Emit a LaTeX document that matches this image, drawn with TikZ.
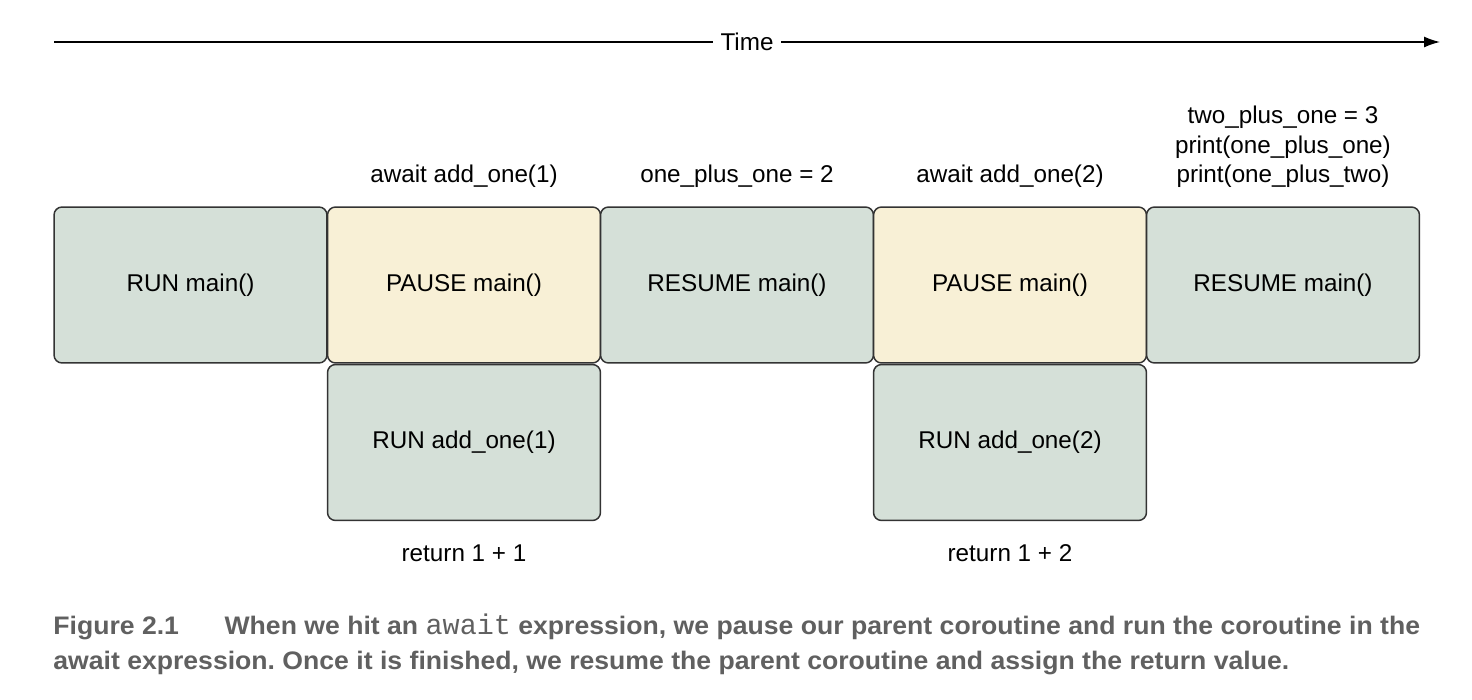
\documentclass[tikz,border=0pt]{standalone}
\usepackage{fontspec}
\setmainfont{Liberation Sans}
\setmonofont{Liberation Mono}
\newfontfamily\capfont[FakeStretch=1.05]{Liberation Sans}
\usetikzlibrary{arrows.meta,positioning}
\definecolor{rungreen}{HTML}{D5E0D8}
\definecolor{pauseyellow}{HTML}{F8F0D6}
\definecolor{capgray}{HTML}{606060}
\frenchspacing
\tikzset{
    block/.style={draw=black!80, line width=0.85pt, rounded corners=0.16cm,
        minimum width=5.46cm, minimum height=3.12cm, inner sep=0pt,
        font=\fontsize{13.8}{16.8}\selectfont},
    runblock/.style={block, fill=rungreen},
    pauseblock/.style={block, fill=pauseyellow},
    stepnote/.style={align=center, inner sep=0pt, font=\fontsize{13.8}{16.8}\selectfont},
    capline/.style={anchor=base west, inner sep=0pt, text=capgray,
        font=\capfont\bfseries\fontsize{14.42}{17}\selectfont}
}

\begin{document}
\begin{tikzpicture}[x=0.02cm, y=-0.02cm]
\useasboundingbox (0,0) rectangle (1472,700);
\begin{scope}
    % Time axis
    \coordinate (T0) at (54,42);
    \coordinate (T1) at (1440,42);
    \draw[line width=0.8pt, -{Latex[length=0.32cm,width=0.22cm]}] (T0)
        -- node[fill=white, inner sep=4pt, font=\fontsize{13.8}{16.8}\selectfont] (time) {Time} (T1);

    % Define nodes
    \draw (190.5,285) node[runblock] (R1) {RUN main()};
    \draw (464,285) node[pauseblock] (P1) {PAUSE main()};
    \draw (737,285) node[runblock] (S1) {RESUME main()};
    \draw (1010,285) node[pauseblock] (P2) {PAUSE main()};
    \draw (1283,285) node[runblock] (S2) {RESUME main()};
    \draw (464,442.5) node[runblock] (A1) {RUN add\_one(1)};
    \draw (1010,442.5) node[runblock] (A2) {RUN add\_one(2)};

    % Notes
    \node[stepnote, above=0.36cm of P1] (nP1) {await add\_one(1)};
    \node[stepnote, above=0.36cm of S1] (nS1) {one\_plus\_one = 2};
    \node[stepnote, above=0.36cm of P2] (nP2) {await add\_one(2)};
    \node[stepnote, above=0.36cm of S2] (nS2) {two\_plus\_one = 3\\print(one\_plus\_one)\\print(one\_plus\_two)};
    \node[stepnote, below=0.46cm of A1] (nA1) {return 1 + 1};
    \node[stepnote, below=0.46cm of A2] (nA2) {return 1 + 2};
\end{scope}

% Caption
\node[capline] (cap1) at (53,634) {Figure 2.1\hspace{1.8em}When we hit an {\mdseries\ttfamily\fontsize{16.2}{17}\selectfont await} expression, we pause our parent coroutine and run the coroutine in the};
\node[capline] (cap2) at (53,669) {await expression. Once it is finished, we resume the parent coroutine and assign the return value.};
\end{tikzpicture}
\end{document}
